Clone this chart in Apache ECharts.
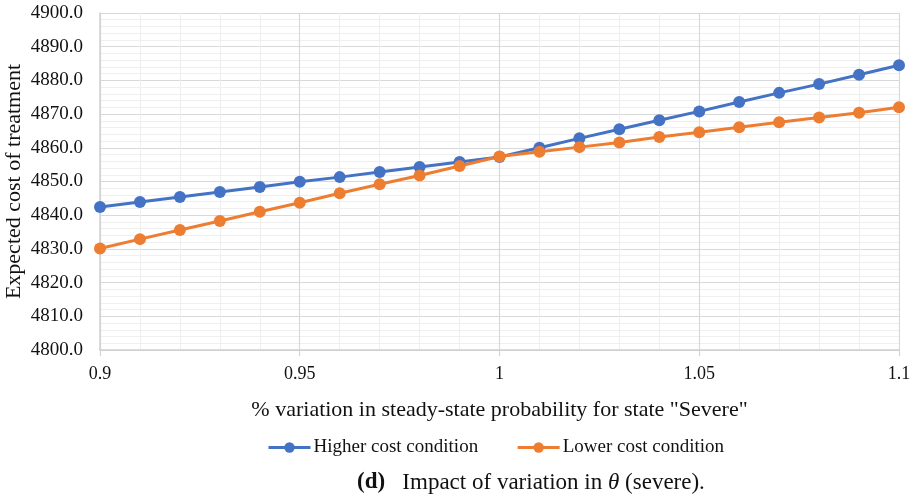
<!DOCTYPE html>
<html><head><meta charset="utf-8">
<script src="https://cdn.jsdelivr.net/npm/echarts@6/dist/echarts.min.js"></script>
<style>html,body{margin:0;padding:0;background:#fff}#c{width:915px;height:496px}</style>
</head><body><div id="c"></div>
<script>
const xValues = [0.9,0.91,0.92,0.93,0.94,0.95,0.96,0.97,0.98,0.99,1.0,1.01,1.02,1.03,1.04,1.05,1.06,1.07,1.08,1.09,1.1];
const higherCost = [4842.4,4843.9,4845.4,4846.9,4848.4,4849.9,4851.3,4852.8,4854.3,4855.8,4857.3,4860.0,4862.8,4865.5,4868.2,4870.8,4873.6,4876.3,4878.9,4881.7,4884.5];
const lowerCost = [4830.1,4832.9,4835.6,4838.3,4841.0,4843.7,4846.5,4849.2,4851.8,4854.6,4857.4,4858.8,4860.2,4861.6,4863.2,4864.6,4866.1,4867.6,4869.0,4870.4,4872.0];
const seriesNames = ['Higher cost condition','Lower cost condition'];
const xTitle = '% variation in steady-state probability for state "Severe"';
const yTitle = 'Expected cost of treatment';

const font = '"Liberation Serif","Times New Roman",serif';
const chart = echarts.init(document.getElementById('c'));
const mk = (name, vals, color) => ({
  name, type:'line', data: xValues.map((x,i)=>[x, vals[i]]),
  symbol:'circle', symbolSize:12, itemStyle:{color}, lineStyle:{color, width:3}, z:3
});
chart.setOption({
  animation:false,
  textStyle:{fontFamily:font},
  grid:{left:100, right:16, top:13, bottom:146, outerBoundsMode:'none'},
  xAxis:{type:'value', min:0.9, max:1.1, interval:0.05,
    name:xTitle, nameLocation:'middle', nameGap:49, nameMoveOverlap:false,
    nameTextStyle:{fontFamily:font, fontSize:22, color:'#111'},
    axisLine:{show:true, lineStyle:{color:'#d0d0d0', width:1.5}},
    axisTick:{show:true, length:6, lineStyle:{color:'#d0d0d0'}},
    axisLabel:{fontFamily:font, fontSize:18, color:'#111', margin:15, formatter:v=>String(+v.toFixed(2))},
    splitLine:{show:true, lineStyle:{color:'#d9d9d9', width:1.2}},
    minorTick:{show:false, splitNumber:5},
    minorSplitLine:{show:true, lineStyle:{color:'#efefef', width:1}}
  },
  yAxis:{type:'value', min:4800, max:4900, interval:10,
    name:yTitle, nameLocation:'middle', nameGap:75, nameRotate:90, nameMoveOverlap:false,
    nameTextStyle:{fontFamily:font, fontSize:22, color:'#111'},
    axisLine:{show:true, lineStyle:{color:'#d0d0d0', width:1.5}},
    axisTick:{show:false},
    axisLabel:{fontFamily:font, fontSize:19, color:'#111', margin:17, formatter:v=>v.toFixed(1)},
    splitLine:{show:true, lineStyle:{color:'#d9d9d9', width:1.2}},
    minorTick:{show:false, splitNumber:5},
    minorSplitLine:{show:true, lineStyle:{color:'#efefef', width:1}}
  },
  legend:{top:433, left:262, itemWidth:42, itemHeight:13, itemGap:38,
    textStyle:{fontFamily:font, fontSize:19, color:'#111', padding:[0,0,0,-2]},
    lineStyle:{width:3},
    data:seriesNames
  },
  title:{text:'{b|(d)}{n|   Impact of variation in }{i|θ}{n| (severe).}', left:352, top:466,
    textStyle:{rich:{
      b:{fontFamily:font, fontSize:23, fontWeight:'bold', color:'#111'},
      n:{fontFamily:font, fontSize:23, fontWeight:'normal', color:'#111'},
      i:{fontFamily:font, fontSize:23, fontWeight:'normal', fontStyle:'italic', color:'#111'}
    }}
  },
  series:[mk(seriesNames[0], higherCost, '#4472C4'), mk(seriesNames[1], lowerCost, '#ED7D31')]
});
</script></body></html>
